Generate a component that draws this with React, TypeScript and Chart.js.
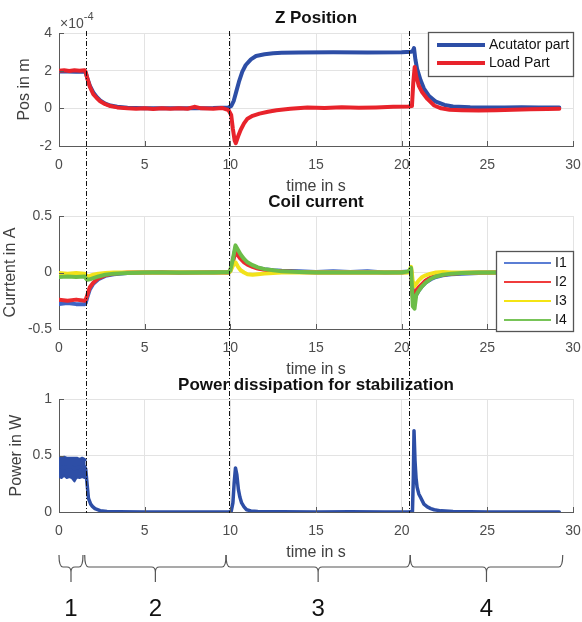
import React, { useEffect, useRef } from 'react';
import { Chart, registerables } from 'chart.js';

Chart.register(...registerables);

// ---------- Z position (values in ×10^-4 m) ----------
const actuatorT = [0, 0.5, 1.0, 1.5, 1.56, 1.65, 1.8, 2.0, 2.2, 2.4, 2.7, 3.0, 3.4, 4.0, 5, 6, 7, 8, 9, 9.9, 10.05, 10.2, 10.35, 10.5, 10.7, 10.9, 11.2, 11.5, 12, 12.5, 13, 14, 16, 18, 20, 20.55, 20.65, 20.72, 20.8, 20.9, 21.1, 21.3, 21.6, 22.0, 22.5, 23, 24, 25, 26, 27, 28, 29.2];
const actuatorZ = [1.95, 1.96, 1.94, 1.96, 1.9, 1.6, 1.2, 0.85, 0.6, 0.42, 0.25, 0.15, 0.08, 0.03, 0.01, 0.0, 0.01, 0.01, 0.02, 0.05, 0.12, 0.4, 0.9, 1.4, 1.95, 2.3, 2.6, 2.78, 2.87, 2.92, 2.95, 2.97, 2.98, 2.97, 2.98, 3.0, 3.05, 3.2, 2.6, 2.1, 1.5, 1.05, 0.65, 0.35, 0.18, 0.1, 0.06, 0.05, 0.05, 0.06, 0.05, 0.05];
const loadT = [0, 0.3, 0.6, 0.9, 1.2, 1.5, 1.56, 1.65, 1.8, 2.0, 2.2, 2.4, 2.7, 3.0, 3.4, 4.0, 4.5, 5, 5.5, 6, 6.5, 7, 7.5, 7.9, 8.3, 9, 9.5, 9.9, 10.05, 10.15, 10.25, 10.32, 10.45, 10.6, 10.8, 11.0, 11.3, 11.7, 12.2, 12.7, 13.5, 14.5, 15.5, 16.5, 17.5, 18.5, 19.5, 20.4, 20.6, 20.68, 20.76, 20.85, 21.0, 21.2, 21.5, 21.9, 22.3, 22.8, 23.5, 24.5, 25.5, 26.5, 27.5, 28.5, 29.2];
const loadZ = [2.0, 2.02, 1.98, 2.02, 1.99, 2.02, 1.92, 1.6, 1.15, 0.75, 0.55, 0.38, 0.22, 0.12, 0.05, 0.0, -0.02, 0.01, -0.03, 0.0, -0.02, 0.01, -0.02, 0.08, 0.0, -0.02, 0.02, -0.1, -0.35, -1.1, -1.7, -1.85, -1.5, -1.15, -0.8, -0.55, -0.4, -0.28, -0.18, -0.1, -0.02, 0.05, 0.02, 0.06, 0.03, 0.05, 0.08, 0.1, 0.12, 1.4, 2.2, 1.7, 1.2, 0.85, 0.5, 0.15, 0.0, -0.08, -0.1, -0.12, -0.1, -0.08, -0.05, -0.03, -0.02];

// ---------- Coil currents (A) ----------
const currentT = [0, 0.5, 1.0, 1.5, 1.56, 1.65, 1.8, 2.0, 2.3, 2.7, 3.2, 4, 5, 6, 7, 8, 9, 9.9, 10.0, 10.15, 10.3, 10.45, 10.6, 10.8, 11.0, 11.3, 11.6, 12, 12.5, 13, 14, 15, 16, 17, 18, 19, 20, 20.4, 20.55, 20.65, 20.75, 20.85, 21.0, 21.2, 21.4, 21.7, 22.0, 22.4, 22.9, 23.5, 24.5, 25.5, 27, 29.2];
const currentI1 = [-0.28, -0.27, -0.28, -0.28, -0.27, -0.22, -0.15, -0.10, -0.06, -0.03, -0.015, -0.005, 0.0, 0.005, -0.005, 0.0, 0.005, 0.0, 0.01, 0.1, 0.22, 0.18, 0.14, 0.11, 0.08, 0.06, 0.04, 0.03, 0.02, 0.015, 0.01, 0.005, 0.01, 0.005, 0.01, 0.0, 0.005, 0.01, 0.02, -0.18, -0.24, -0.2, -0.16, -0.12, -0.09, -0.06, -0.04, -0.025, -0.015, -0.01, -0.005, 0.0, 0.0, 0.0];
const currentI2 = [-0.24, -0.25, -0.24, -0.25, -0.24, -0.2, -0.13, -0.09, -0.05, -0.025, -0.01, 0.0, 0.0, 0.0, 0.0, 0.0, 0.0, 0.0, 0.02, 0.1, 0.18, 0.15, 0.12, 0.09, 0.07, 0.05, 0.035, 0.025, 0.015, 0.01, 0.005, 0.0, 0.0, 0.0, 0.0, 0.0, 0.0, 0.005, 0.03, -0.22, -0.2, -0.16, -0.13, -0.1, -0.07, -0.045, -0.03, -0.02, -0.01, -0.005, 0.0, 0.0, 0.0, 0.0];
const currentI3 = [-0.005, -0.01, -0.005, -0.01, -0.02, -0.035, -0.03, -0.02, -0.01, -0.005, 0.0, 0.0, 0.0, 0.0, 0.0, 0.0, 0.0, 0.0, 0.01, 0.06, 0.09, 0.05, 0.02, 0.0, -0.015, -0.02, -0.015, -0.01, -0.005, 0.0, 0.0, 0.0, 0.0, 0.0, 0.0, 0.0, 0.0, 0.0, 0.05, -0.08, -0.12, -0.1, -0.07, -0.04, -0.025, -0.01, 0.0, 0.005, 0.0, 0.0, 0.0, 0.0, 0.0, 0.0];
const currentI4 = [-0.04, -0.035, -0.04, -0.035, -0.05, -0.065, -0.06, -0.05, -0.035, -0.02, -0.01, -0.005, 0.0, 0.0, 0.0, 0.0, 0.0, 0.005, 0.02, 0.12, 0.24, 0.2, 0.16, 0.12, 0.09, 0.065, 0.045, 0.03, 0.02, 0.01, 0.005, 0.0, 0.0, 0.0, 0.0, 0.0, 0.0, 0.01, 0.04, -0.3, -0.32, -0.2, -0.16, -0.12, -0.09, -0.055, -0.035, -0.02, -0.01, -0.005, 0.0, 0.0, 0.0, 0.0];

// ---------- Power dissipation (W) ----------
const powerT = [0, 0.25, 0.5, 0.75, 0.9, 1.0, 1.25, 1.5, 1.56, 1.62, 1.72, 1.85, 1.95, 2.1, 2.4, 2.8, 3.5, 5, 7, 9, 9.9, 10.05, 10.15, 10.22, 10.3, 10.38, 10.47, 10.56, 10.66, 10.8, 10.95, 11.2, 11.6, 13, 15, 17, 19, 20.4, 20.63, 20.68, 20.72, 20.78, 20.84, 20.9, 21.0, 21.1, 21.3, 21.5, 21.7, 21.9, 22.3, 23, 25, 27, 29.2];
const powerW = [0.4, 0.39, 0.4, 0.4, 0.38, 0.39, 0.4, 0.4, 0.38, 0.28, 0.12, 0.07, 0.05, 0.03, 0.012, 0.005, 0.002, 0.0, 0.0, 0.0, 0.0, 0.005, 0.08, 0.25, 0.39, 0.33, 0.2, 0.13, 0.08, 0.045, 0.02, 0.01, 0.004, 0.002, 0.0, 0.002, 0.0, 0.0, 0.005, 0.3, 0.72, 0.45, 0.3, 0.22, 0.16, 0.13, 0.07, 0.045, 0.03, 0.02, 0.01, 0.005, 0.0, 0.0, 0.0];
// noise envelope of the power trace during phase 1
const powerBandT = [0, 0.15, 0.3, 0.45, 0.6, 0.75, 0.9, 1.05, 1.2, 1.35, 1.5, 1.56];
const powerBandHigh = [0.49, 0.48, 0.49, 0.48, 0.48, 0.48, 0.48, 0.48, 0.47, 0.48, 0.47, 0.46];
const powerBandLow = [0.31, 0.3, 0.32, 0.3, 0.31, 0.3, 0.27, 0.31, 0.3, 0.31, 0.3, 0.3];

// ---------- Phase markers / braces ----------
const phaseMarkers = [1.56, 9.9, 20.41];
const phaseStart = [0, 1.5, 9.75, 20.5];
const phaseEnd = [1.4, 9.75, 20.5, 29.4];
const phaseLabels = ['1', '2', '3', '4'];

// ---------- Axis ticks ----------
const timeTicks = { min: 0, max: 30, step: 5 };
const posTicks = { min: -2, max: 4, step: 2 };
const currentTicks = { min: -0.5, max: 0.5, step: 0.5 };
const powerTicks = { min: 0, max: 1, step: 0.5 };

const FONT = '"Liberation Sans", Arial, Helvetica, sans-serif';
const TICK = '#4d4d4d';
const GRID = '#e3e3e3';
const AXIS = '#5a5a5a';
const W = 582;
const H = 622;

const zip = (xs: number[], ys: number[]) => xs.map((x, i) => ({ x, y: ys[i] }));

function line(label: string, xs: number[], ys: number[], color: string, width: number, order: number, extra: any = {}) {
  return {
    label,
    data: zip(xs, ys),
    borderColor: color,
    backgroundColor: color,
    borderWidth: width,
    pointRadius: 0,
    tension: 0,
    order,
    borderJoinStyle: 'round',
    borderCapStyle: 'round',
    fill: false,
    ...extra,
  };
}

type LegendItem = { label: string; color: string; width: number; y: number };
type Decor = {
  title: string;
  titleY: number;
  ylabel: string;
  ylabelX: number;
  xlabelY: number;
  legend?: { x1: number; y1: number; x2: number; y2: number; lx1: number; lx2: number; tx: number; items: LegendItem[] };
  exponent?: boolean;
  markers?: boolean;
  braces?: boolean;
};

function drawDecor(chart: any, d: Decor) {
  const ctx: CanvasRenderingContext2D = chart.ctx;
  const area = chart.chartArea;
  const xs = chart.scales.x;
  const ys = chart.scales.y;
  const cx = (area.left + area.right) / 2;
  ctx.save();

  // inward tick marks
  ctx.strokeStyle = AXIS;
  ctx.lineWidth = 1;
  ctx.beginPath();
  xs.ticks.forEach((t: any) => {
    const px = Math.round(xs.getPixelForValue(t.value)) + 0.5;
    ctx.moveTo(px, area.bottom);
    ctx.lineTo(px, area.bottom - 5);
  });
  ys.ticks.forEach((t: any) => {
    const py = Math.round(ys.getPixelForValue(t.value)) + 0.5;
    ctx.moveTo(area.left, py);
    ctx.lineTo(area.left + 5, py);
  });
  ctx.stroke();

  // title
  ctx.fillStyle = '#111';
  ctx.font = `bold 17px ${FONT}`;
  ctx.textAlign = 'center';
  ctx.textBaseline = 'middle';
  ctx.fillText(d.title, cx, d.titleY);

  // x label
  ctx.fillStyle = '#404040';
  ctx.font = `16px ${FONT}`;
  ctx.fillText('time in s', cx, d.xlabelY);

  // y label
  ctx.save();
  ctx.translate(d.ylabelX, (area.top + area.bottom) / 2);
  ctx.rotate(-Math.PI / 2);
  ctx.fillText(d.ylabel, 0, 0);
  ctx.restore();

  if (d.exponent) {
    ctx.fillStyle = TICK;
    ctx.textAlign = 'left';
    ctx.font = `14px ${FONT}`;
    ctx.fillText('\u00d710', 60, 24);
    const w = ctx.measureText('\u00d710').width;
    ctx.font = `11px ${FONT}`;
    ctx.fillText('-4', 60 + w, 17);
  }

  if (d.legend) {
    const L = d.legend;
    ctx.fillStyle = '#fff';
    ctx.fillRect(L.x1, L.y1, L.x2 - L.x1, L.y2 - L.y1);
    ctx.strokeStyle = '#555';
    ctx.lineWidth = 1.3;
    ctx.strokeRect(L.x1 + 0.5, L.y1 + 0.5, L.x2 - L.x1, L.y2 - L.y1);
    L.items.forEach((it) => {
      ctx.strokeStyle = it.color;
      ctx.lineWidth = it.width;
      ctx.lineCap = 'butt';
      ctx.beginPath();
      ctx.moveTo(L.lx1, it.y);
      ctx.lineTo(L.lx2, it.y);
      ctx.stroke();
      ctx.fillStyle = '#111';
      ctx.font = `14px ${FONT}`;
      ctx.textAlign = 'left';
      ctx.textBaseline = 'middle';
      ctx.fillText(it.label, L.tx, it.y);
    });
  }

  if (d.markers) {
    ctx.strokeStyle = '#111';
    ctx.lineWidth = 1;
    ctx.setLineDash([5, 2, 1, 2]);
    phaseMarkers.forEach((t) => {
      const px = Math.round(xs.getPixelForValue(t)) + 0.5;
      ctx.beginPath();
      ctx.moveTo(px, 31);
      ctx.lineTo(px, area.bottom + 1);
      ctx.stroke();
    });
    ctx.setLineDash([]);
  }

  if (d.braces) {
    const yTop = 555;
    const yMid = 567;
    const yBot = 582;
    ctx.strokeStyle = '#555';
    ctx.lineWidth = 1.2;
    phaseStart.forEach((s, i) => {
      const x1 = xs.getPixelForValue(s);
      const x2 = xs.getPixelForValue(phaseEnd[i]);
      const xm = (x1 + x2) / 2;
      const r = 4;
      ctx.beginPath();
      ctx.moveTo(x1, yTop);
      ctx.quadraticCurveTo(x1, yMid, x1 + r, yMid);
      ctx.lineTo(xm - r, yMid);
      ctx.quadraticCurveTo(xm, yMid, xm, yMid + 5);
      ctx.lineTo(xm, yBot);
      ctx.moveTo(xm, yMid + 5);
      ctx.quadraticCurveTo(xm, yMid, xm + r, yMid);
      ctx.lineTo(x2 - r, yMid);
      ctx.quadraticCurveTo(x2, yMid, x2, yTop);
      ctx.stroke();
      ctx.fillStyle = '#111';
      ctx.font = `24px ${FONT}`;
      ctx.textAlign = 'center';
      ctx.textBaseline = 'middle';
      ctx.fillText(phaseLabels[i], xm, 609);
    });
  }
  ctx.restore();
}

function makeConfig(datasets: any[], yt: { min: number; max: number; step: number }, plotTop: number, plotBottom: number, decor: Decor): any {
  return {
    type: 'line',
    data: { datasets },
    options: {
      responsive: false,
      animation: false,
      devicePixelRatio: 1,
      events: [],
      layout: { padding: { left: 0, right: W - 573, top: plotTop, bottom: H - plotBottom - 26 } },
      plugins: { legend: { display: false }, title: { display: false }, tooltip: { enabled: false } },
      scales: {
        x: {
          type: 'linear',
          min: timeTicks.min,
          max: timeTicks.max,
          ticks: { stepSize: timeTicks.step, color: TICK, font: { family: FONT, size: 14 }, padding: 0, maxRotation: 0, autoSkip: false },
          grid: { color: GRID, drawTicks: true, tickLength: 11, tickColor: 'rgba(0,0,0,0)', lineWidth: 1 },
          border: { color: AXIS, width: 1 },
          afterFit: (s: any) => { s.height = 26; },
        },
        y: {
          type: 'linear',
          min: yt.min,
          max: yt.max,
          ticks: {
            stepSize: yt.step,
            color: TICK,
            font: { family: FONT, size: 14 },
            padding: 7,
            callback: (v: any) => String(Math.round(Number(v) * 1000) / 1000),
          },
          grid: { color: GRID, drawTicks: false, lineWidth: 1 },
          border: { color: AXIS, width: 1 },
          afterFit: (s: any) => { s.width = 59; },
        },
      },
    },
    plugins: [{ id: 'decor', afterDraw: (chart: any) => drawDecor(chart, decor) }],
  };
}

const BLUE = '#2d4ea6';
const RED = '#e8232b';

export default function App() {
  const c1 = useRef<HTMLCanvasElement>(null);
  const c2 = useRef<HTMLCanvasElement>(null);
  const c3 = useRef<HTMLCanvasElement>(null);

  useEffect(() => {
    Chart.defaults.font.family = FONT;
    const top = new Chart(
      c1.current!,
      makeConfig(
        [
          line('Acutator part', actuatorT, actuatorZ, BLUE, 4, 2),
          line('Load Part', loadT, loadZ, RED, 4, 1),
        ],
        posTicks,
        33,
        146,
        {
          title: 'Z Position',
          titleY: 18,
          ylabel: 'Pos in m',
          ylabelX: 25,
          xlabelY: 187,
          exponent: true,
          legend: {
            x1: 428, y1: 32, x2: 573, y2: 76, lx1: 437, lx2: 485, tx: 489,
            items: [
              { label: 'Acutator part', color: BLUE, width: 4, y: 45 },
              { label: 'Load Part', color: RED, width: 4, y: 63 },
            ],
          },
        }
      )
    );
    const mid = new Chart(
      c2.current!,
      makeConfig(
        [
          line('I1', currentT, currentI1, '#3f63c4', 4, 4),
          line('I2', currentT, currentI2, '#ec2a2e', 4, 3),
          line('I3', currentT, currentI3, '#f2e21a', 4, 2),
          line('I4', currentT, currentI4, '#6cbd48', 4, 1),
        ],
        currentTicks,
        216,
        329,
        {
          title: 'Coil current',
          titleY: 202,
          ylabel: 'Currtent in A',
          ylabelX: 11,
          xlabelY: 370,
          legend: {
            x1: 496, y1: 251, x2: 573, y2: 331, lx1: 504, lx2: 551, tx: 555,
            items: [
              { label: 'I1', color: '#5b7ed4', width: 2, y: 263 },
              { label: 'I2', color: '#f03c3c', width: 2, y: 282 },
              { label: 'I3', color: '#f4e414', width: 2, y: 301 },
              { label: 'I4', color: '#78c458', width: 2, y: 320 },
            ],
          },
        }
      )
    );
    const bot = new Chart(
      c3.current!,
      makeConfig(
        [
          line('Power', powerT, powerW, BLUE, 3.5, 1),
          line('band high', powerBandT, powerBandHigh, BLUE, 2, 2),
          line('band low', powerBandT, powerBandLow, BLUE, 2, 3, { fill: '-1', backgroundColor: BLUE }),
        ],
        powerTicks,
        399,
        512,
        {
          title: 'Power dissipation for stabilization',
          titleY: 385,
          ylabel: 'Power in W',
          ylabelX: 17,
          xlabelY: 553,
          markers: true,
          braces: true,
        }
      )
    );
    return () => {
      top.destroy();
      mid.destroy();
      bot.destroy();
    };
  }, []);

  const cs: React.CSSProperties = { position: 'absolute', left: 0, top: 0, width: W, height: H };
  return (
    <div style={{ position: 'fixed', left: 0, top: 0, width: W, height: H, background: '#fff' }}>
      <canvas ref={c1} width={W} height={H} style={cs} />
      <canvas ref={c2} width={W} height={H} style={cs} />
      <canvas ref={c3} width={W} height={H} style={cs} />
    </div>
  );
}
